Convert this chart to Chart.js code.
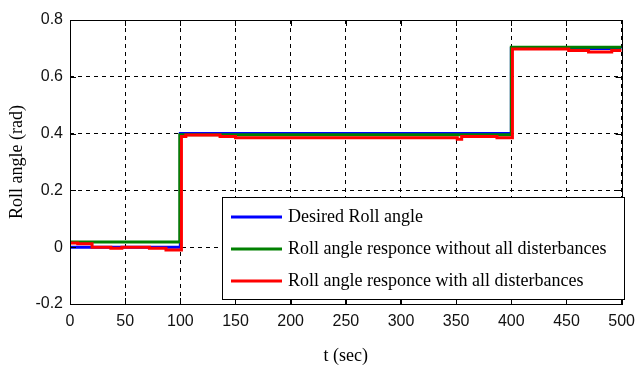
<!DOCTYPE html>
<html>
<head>
<meta charset="utf-8">
<script src="https://cdn.jsdelivr.net/npm/chart.js@4.4.1/dist/chart.umd.min.js"></script>
<style>
  html, body { margin: 0; padding: 0; background: #fff; }
  #wrap { width: 643px; height: 370px; position: relative; }
</style>
</head>
<body>
<div id="wrap"><canvas id="c" width="643" height="370"></canvas></div>
<script>
// ---- data ----
const xTicks = [0, 50, 100, 150, 200, 250, 300, 350, 400, 450, 500];
const yTicks = [-0.2, 0, 0.2, 0.4, 0.6, 0.8];

const seriesLabels = [
  'Desired Roll angle',
  'Roll angle responce without all disterbances',
  'Roll angle responce with all disterbances'
];

// Desired roll angle (each value held until the next time)
const tDesired = [0, 100, 400, 500];
const vDesired = [0, 0.4, 0.7, 0.7];

// Response without disturbances
const tNoDist = [0, 99.5, 400, 500];
const vNoDist = [0.018, 0.396, 0.704, 0.704];

// Response with all disturbances
const tDist = [0, 7, 20, 37, 47, 72, 87, 101, 105, 136, 150, 351, 355, 387, 401, 452, 470, 491, 500];
const vDist = [0.015, 0.012, 0.0, -0.004, 0.0, -0.004, -0.01, 0.39, 0.395, 0.39, 0.385, 0.38, 0.39, 0.385, 0.698, 0.693, 0.687, 0.693, 0.693];

const colors = ['#0000ff', '#008000', '#ff0000'];

// value v[i] holds from t[i] until t[i+1]
function toPoints(ts, vs) {
  const pts = [];
  for (let i = 0; i < ts.length; i++) {
    pts.push({ x: ts[i], y: i > 0 ? vs[i - 1] : vs[i] });
    pts.push({ x: ts[i], y: vs[i] });
  }
  return pts;
}

const tickFont = { family: "'Liberation Sans Narrow', 'Arial Narrow', 'Liberation Sans', Arial, sans-serif", size: 16 };
const serifFont = "'Liberation Serif', 'Times New Roman', serif";

const framePlugin = {
  id: 'frame',
  afterDatasetsDraw(chart) {
    const { ctx, chartArea: a, scales } = chart;
    ctx.save();
    ctx.strokeStyle = '#000';
    ctx.lineWidth = 1;
    ctx.setLineDash([]);
    ctx.strokeRect(Math.round(a.left) + 0.5, Math.round(a.top) + 0.5, Math.round(a.right - a.left), Math.round(a.bottom - a.top));
    const L = 6;
    ctx.beginPath();
    xTicks.forEach(v => {
      const x = Math.round(scales.x.getPixelForValue(v)) + 0.5;
      ctx.moveTo(x, a.bottom); ctx.lineTo(x, a.bottom - L);
      ctx.moveTo(x, a.top); ctx.lineTo(x, a.top + L);
    });
    yTicks.forEach(v => {
      const y = Math.round(scales.y.getPixelForValue(v)) + 0.5;
      ctx.moveTo(a.left, y); ctx.lineTo(a.left + L, y);
      ctx.moveTo(a.right, y); ctx.lineTo(a.right - L, y);
    });
    ctx.stroke();
    ctx.restore();
  }
};

const legendPlugin = {
  id: 'boxLegend',
  afterDraw(chart) {
    const { ctx } = chart;
    const bx = 222, by = 197, bw = 402, bh = 102;
    ctx.save();
    ctx.fillStyle = '#fff';
    ctx.fillRect(bx, by, bw, bh);
    ctx.strokeStyle = '#000';
    ctx.lineWidth = 1;
    ctx.strokeRect(bx + 0.5, by + 0.5, bw, bh);
    const rows = [217, 249, 281];
    ctx.font = '18px ' + serifFont;
    ctx.textBaseline = 'middle';
    ctx.textAlign = 'left';
    chart.data.datasets.forEach((ds, i) => {
      ctx.strokeStyle = ds.borderColor;
      ctx.lineWidth = 3;
      ctx.beginPath();
      ctx.moveTo(231, rows[i]);
      ctx.lineTo(282, rows[i]);
      ctx.stroke();
      ctx.fillStyle = '#000';
      ctx.fillText(ds.label, 288, rows[i]);
    });
    ctx.restore();
  }
};

new Chart(document.getElementById('c'), {
  type: 'line',
  data: {
    datasets: [
      { label: seriesLabels[0], data: toPoints(tDesired, vDesired), borderColor: colors[0], borderWidth: 3, pointRadius: 0, fill: false, order: 3 },
      { label: seriesLabels[1], data: toPoints(tNoDist, vNoDist), borderColor: colors[1], borderWidth: 3, pointRadius: 0, fill: false, order: 2 },
      { label: seriesLabels[2], data: toPoints(tDist, vDist), borderColor: colors[2], borderWidth: 3, pointRadius: 0, fill: false, order: 1 }
    ]
  },
  options: {
    responsive: false,
    animation: false,
    layout: { padding: { left: 6, right: 15, top: 20, bottom: 3 } },
    plugins: { legend: { display: false }, tooltip: { enabled: false } },
    scales: {
      x: {
        type: 'linear', min: 0, max: 500,
        afterBuildTicks(s) { s.ticks = xTicks.map(v => ({ value: v })); },
        afterFit(s) { s.height = 63; },
        grid: { color: '#000', lineWidth: 1, drawTicks: false },
        border: { display: false, dash: [4, 4] },
        ticks: { color: '#111', font: tickFont, padding: 8, maxRotation: 0 },
        title: { display: true, text: 't (sec)', color: '#000', font: { family: serifFont, size: 18 }, padding: { top: 0, bottom: 0 } }
      },
      y: {
        type: 'linear', min: -0.2, max: 0.8,
        afterBuildTicks(s) { s.ticks = yTicks.map(v => ({ value: v })); },
        afterFit(s) { s.width = 64; },
        grid: { color: '#000', lineWidth: 1, drawTicks: false },
        border: { display: false, dash: [4, 4] },
        ticks: { color: '#111', font: tickFont, padding: 7, callback: v => (Math.round(v * 10) / 10).toString() },
        title: { display: true, text: 'Roll angle (rad)', color: '#000', font: { family: serifFont, size: 18 }, padding: { top: 0, bottom: 0 } }
      }
    }
  },
  plugins: [framePlugin, legendPlugin]
});
</script>
</body>
</html>
